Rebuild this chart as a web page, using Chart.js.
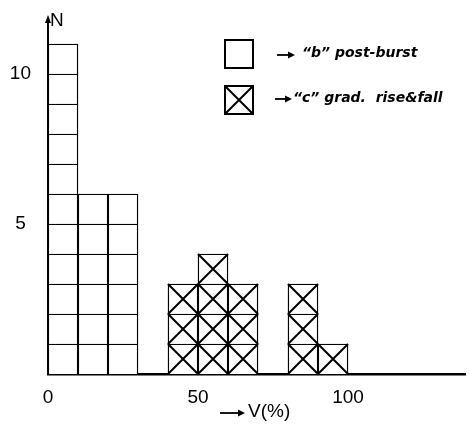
<!DOCTYPE html>
<html>
<head>
<meta charset="utf-8">
<script src="https://cdn.jsdelivr.net/npm/chart.js@4"></script>
<style>
  html, body { margin: 0; padding: 0; background: #fff; }
  #wrap { width: 469px; height: 426px; }
</style>
</head>
<body>
<div id="wrap"><canvas id="myChart"></canvas></div>
<script>
// bin centres of V(%), 10 % wide
const bins = [5, 15, 25, 35, 45, 55, 65, 75, 85, 95];
const postBurst = [11, 6, 6, 0, 0, 0, 0, 0, 0, 0];   // "b"
const gradRise = [0, 0, 0, 0, 3, 4, 3, 0, 3, 1];     // "c"
const yTicks = [5, 10];
const xTicks = [0, 50, 100];
const labelFont = "'Liberation Sans', Arial, sans-serif";

// one dataset per stacked square level so every case gets its own box
function levels(counts, cross) {
  const out = [];
  const top = Math.max(...counts);
  for (let k = 1; k <= top; k++) {
    const pts = [];
    bins.forEach((b, i) => { if (counts[i] >= k) pts.push({ x: b, y: 1 }); });
    out.push({
      data: pts,
      cross: cross,
      backgroundColor: "#fff",
      borderColor: "#000",
      borderWidth: 1.4,
      categoryPercentage: 1,
      barPercentage: 1,
    });
  }
  return out;
}

function arrow(ctx, x0, x1, y) {
  ctx.lineWidth = 1.8;
  ctx.beginPath();
  ctx.moveTo(x0, y);
  ctx.lineTo(x1 - 5, y);
  ctx.stroke();
  ctx.beginPath();
  ctx.moveTo(x1, y);
  ctx.lineTo(x1 - 7, y - 3.5);
  ctx.lineTo(x1 - 7, y + 3.5);
  ctx.closePath();
  ctx.fill();
}

const crossPlugin = {
  id: "cross",
  afterDatasetsDraw(chart) {
    const ctx = chart.ctx;
    ctx.save();
    ctx.strokeStyle = "#000";
    ctx.lineWidth = 2;
    chart.data.datasets.forEach((ds, i) => {
      if (!ds.cross) return;
      chart.getDatasetMeta(i).data.forEach((el) => {
        const { x, y, base, width } = el.getProps(["x", "y", "base", "width"], true);
        ctx.beginPath();
        ctx.moveTo(x - width / 2, y);
        ctx.lineTo(x + width / 2, base);
        ctx.moveTo(x + width / 2, y);
        ctx.lineTo(x - width / 2, base);
        ctx.stroke();
      });
    });
    ctx.restore();
  },
  afterDraw(chart) {
    const ctx = chart.ctx;
    const area = chart.chartArea;
    ctx.save();
    ctx.strokeStyle = "#000";
    ctx.fillStyle = "#000";
    // y axis arrow and N
    ctx.lineWidth = 2;
    ctx.beginPath();
    ctx.moveTo(area.left, area.top + 2);
    ctx.lineTo(area.left, area.top - 1);
    ctx.stroke();
    ctx.beginPath();
    ctx.moveTo(area.left, area.top - 5);
    ctx.lineTo(area.left - 3, area.top + 3);
    ctx.lineTo(area.left + 3, area.top + 3);
    ctx.closePath();
    ctx.fill();
    ctx.font = "19px " + labelFont;
    ctx.textBaseline = "middle";
    ctx.textAlign = "left";
    ctx.fillText("N", area.left + 2, area.top + 1);

    // x axis title
    arrow(ctx, 220, 245, 413);
    ctx.font = "19px " + labelFont;
    ctx.fillText("V(%)", 248, 412);

    // legend
    const bx = 225, s = 28;
    [{ y: 40, cross: false }, { y: 86, cross: true }].forEach((e) => {
      ctx.lineWidth = 2;
      ctx.fillStyle = "#fff";
      ctx.fillRect(bx, e.y, s, s);
      ctx.strokeRect(bx, e.y, s, s);
      if (e.cross) {
        ctx.beginPath();
        ctx.moveTo(bx, e.y);
        ctx.lineTo(bx + s, e.y + s);
        ctx.moveTo(bx + s, e.y);
        ctx.lineTo(bx, e.y + s);
        ctx.stroke();
      }
    });
    ctx.fillStyle = "#000";
    arrow(ctx, 277, 295, 55);
    arrow(ctx, 275, 292, 99);
    ctx.font = "italic bold 14px 'DejaVu Sans', sans-serif";
    ctx.fillText("\u201cb\u201d post-burst", 302, 53);
    ctx.fillText("\u201cc\u201d grad.  rise&fall", 293, 98);
    ctx.restore();
  },
};

const ctx = document.getElementById("myChart");

new Chart(ctx, {
  type: "bar",
  data: {
    datasets: [...levels(postBurst, false), ...levels(gradRise, true)],
  },
  options: {
    responsive: true,
    maintainAspectRatio: false,
    animation: false,
    layout: { padding: { left: 0, right: 4, top: 20, bottom: 0 } },
    plugins: { legend: { display: false }, tooltip: { enabled: false } },
    scales: {
      x: {
        type: "linear",
        stacked: true,
        offset: false,
        min: 0,
        max: 139,
        grid: { display: false, drawTicks: false },
        border: { display: true, color: "#000", width: 2.5 },
        ticks: {
          stepSize: 50,
          padding: 12,
          color: "#000",
          font: { family: labelFont, size: 19 },
          callback: (v) => (xTicks.includes(v) ? v : ""),
        },
        afterFit: (scale) => { scale.height = 52; scale.paddingRight = 0; scale.paddingLeft = 0; },
      },
      y: {
        stacked: true,
        min: 0,
        max: 11.8,
        grid: { display: false, drawTicks: false },
        border: { display: true, color: "#000", width: 2 },
        ticks: {
          stepSize: 5,
          padding: 17,
          crossAlign: "center",
          color: "#000",
          font: { family: labelFont, size: 19 },
          callback: (v) => (yTicks.includes(v) ? v : ""),
        },
        afterFit: (scale) => { scale.width = 48; scale.paddingTop = 0; scale.paddingBottom = 0; },
      },
    },
  },
  plugins: [crossPlugin],
});
</script>
</body>
</html>
